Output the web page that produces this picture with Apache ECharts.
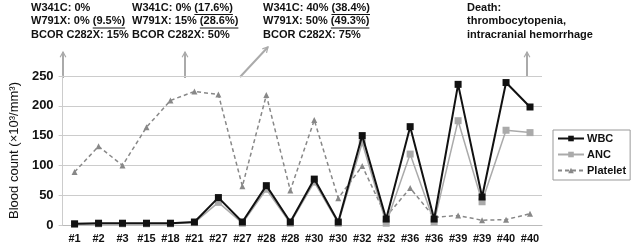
<!DOCTYPE html>
<html>
<head>
<meta charset="utf-8">
<script src="https://cdn.jsdelivr.net/npm/echarts@6/dist/echarts.min.js"></script>
<style>
  html, body { margin: 0; padding: 0; background: #fff; }
  #chart { width: 632px; height: 246px; }
</style>
</head>
<body>
<div id="chart"></div>
<script>
var categories = ['#1', '#2', '#3', '#15', '#18', '#21', '#27', '#27', '#28', '#28',
    '#30', '#30', '#32', '#32', '#36', '#36', '#39', '#39', '#40', '#40'];
var wbc = [2, 3, 3, 3, 3, 5, 46, 5, 66, 5, 77, 5, 150, 10, 165, 10, 236, 47, 239, 198];
var anc = [1, 2, 2, 2, 2, 4, 38, 3, 60, 3, 72, 3, 138, 3, 119, 5, 175, 39, 159, 155];
var platelet = [89, 132, 100, 164, 209, 224, 219, 65, 218, 58, 176, 45, 99, 14, 62, 13, 16, 8, 9, 19];
var yTicks = [0, 50, 100, 150, 200, 250];

// annotation blocks: [text before underline, underlined part] per line
var notes = [
    { x: 31, lines: [['W341C: 0%', ''], ['W791X: 0% ', '(9.5%)'], ['BCOR C282X: 15%', '']] },
    { x: 132, lines: [['W341C: 0% ', '(17.6%)'], ['W791X: 15% ', '(28.6%)'], ['BCOR C282X: 50%', '']] },
    { x: 263, lines: [['W341C: 40% ', '(38.4%)'], ['W791X: 50% ', '(49.3%)'], ['BCOR C282X: 75%', '']] },
    { x: 467, lines: [['Death:', ''], ['thrombocytopenia,', ''], ['intracranial hemorrhage', '']] }
];

var myChart = echarts.init(document.getElementById('chart'));
var family = '"Liberation Sans", Arial, sans-serif';
var noteFont = 'bold 11px ' + family;
var lineH = 13.5;

var measure = document.createElement('canvas').getContext('2d');
measure.font = noteFont;

function arrow(x1, y1, x2, y2) {
    var ang = Math.atan2(y2 - y1, x2 - x1);
    var h = 6;
    var a1 = ang + Math.PI - 0.5, a2 = ang + Math.PI + 0.5;
    return [
        { type: 'line', shape: { x1: x1, y1: y1, x2: x2, y2: y2 }, style: { stroke: '#aaa', lineWidth: 2 } },
        { type: 'polyline', shape: { points: [[x2 + h * Math.cos(a1), y2 + h * Math.sin(a1)], [x2, y2], [x2 + h * Math.cos(a2), y2 + h * Math.sin(a2)]] },
          style: { stroke: '#aaa', lineWidth: 1.2, fill: null } }
    ];
}

var graphics = [];
notes.forEach(function (n) {
    n.lines.forEach(function (l, i) {
        var top = 2 + i * lineH;
        graphics.push({
            type: 'text', left: n.x, top: top,
            style: { text: l[0] + l[1], font: noteFont, fill: '#111' }
        });
        if (l[1]) {
            var x1 = n.x + measure.measureText(l[0]).width;
            var x2 = x1 + measure.measureText(l[1]).width;
            var y = top + 12.5;
            graphics.push({ type: 'line', shape: { x1: x1, y1: y, x2: x2, y2: y }, style: { stroke: '#111', lineWidth: 1 } });
        }
    });
});
graphics = graphics.concat(arrow(63, 78, 63, 52), arrow(185, 78, 185, 52), arrow(240, 77, 268, 47), arrow(527, 77, 527, 52));

var option = {
    backgroundColor: '#fff',
    animation: false,
    grid: { left: 55, right: 90, top: 76, bottom: 21 },
    legend: {
        orient: 'vertical',
        left: 553,
        top: 130,
        padding: [3, 4, 4, 4],
        itemGap: 5,
        itemWidth: 26,
        itemHeight: 7,
        borderColor: '#999',
        borderWidth: 1,
        textStyle: { fontFamily: family, fontWeight: 'bold', fontSize: 11, color: '#111', padding: [0, 0, 0, -2] },
        data: ['WBC', 'ANC', 'Platelet']
    },
    xAxis: {
        type: 'category',
        data: categories,
        axisLine: { lineStyle: { color: '#bbb', width: 1 } },
        axisTick: { show: false },
        axisLabel: { fontFamily: family, fontWeight: 'bold', fontSize: 11, color: '#111', margin: 8, interval: 0 }
    },
    yAxis: {
        type: 'value',
        min: yTicks[0],
        max: yTicks[yTicks.length - 1],
        interval: 50,
        name: 'Blood count (×10³/mm³)',
        nameLocation: 'middle',
        nameGap: 38,
        nameTextStyle: { fontFamily: family, fontSize: 13, color: '#111' },
        axisLine: { show: true, lineStyle: { color: '#ccc', width: 1 } },
        axisTick: { show: true, length: 4, lineStyle: { color: '#ccc' } },
        splitLine: { lineStyle: { color: '#ccc', width: 1 } },
        axisLabel: { fontFamily: family, fontWeight: 'bold', fontSize: 13, color: '#111', margin: 9 }
    },
    series: [
        {
            name: 'WBC', type: 'line', data: wbc, z: 4,
            symbol: 'rect', symbolSize: 7,
            lineStyle: { color: '#111', width: 2 },
            itemStyle: { color: '#111' }
        },
        {
            name: 'ANC', type: 'line', data: anc, z: 3,
            symbol: 'rect', symbolSize: 7,
            lineStyle: { color: '#aaa', width: 1.5 },
            itemStyle: { color: '#aaa' }
        },
        {
            name: 'Platelet', type: 'line', data: platelet, z: 2,
            symbol: 'triangle', symbolSize: 6,
            lineStyle: { color: '#888', width: 1.5, type: [4, 3] },
            itemStyle: { color: '#888' }
        }
    ],
    graphic: graphics
};
myChart.setOption(option);
window.addEventListener('resize', function () {
    myChart.resize();
});
</script>
</body>
</html>
